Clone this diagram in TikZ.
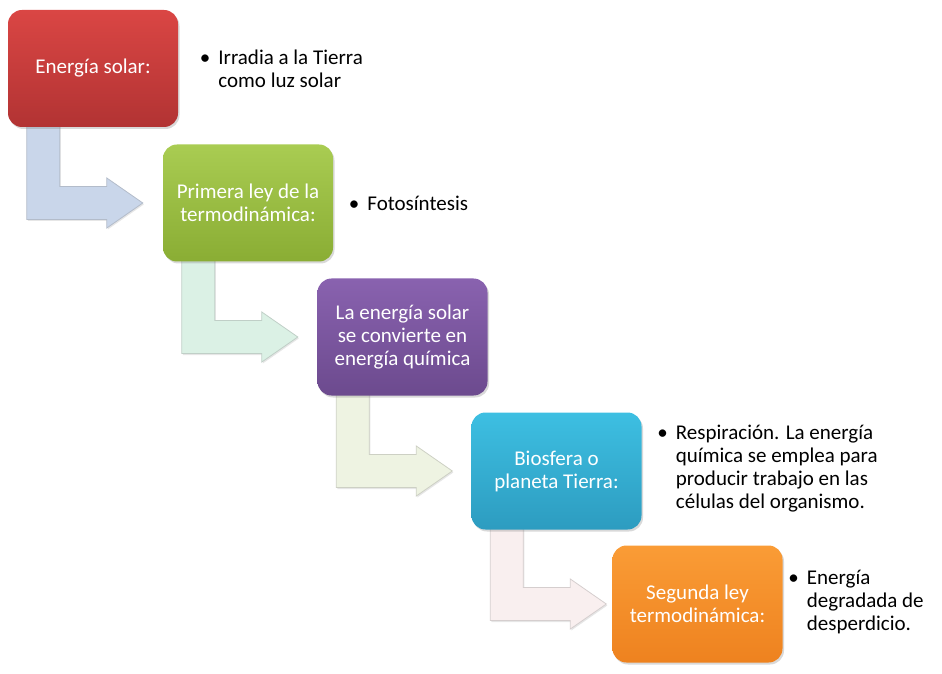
\documentclass[tikz,border=0pt]{standalone}
\usepackage{fontspec}
\setmainfont{Carlito}
\usetikzlibrary{calc}
\usetikzlibrary{positioning}
\usetikzlibrary{shadows}
\usetikzlibrary{backgrounds}

\definecolor{redtop}{HTML}{DA4644}
\definecolor{redbot}{HTML}{B23333}
\definecolor{greentop}{HTML}{A9CC52}
\definecolor{greenbot}{HTML}{8AAD34}
\definecolor{purpletop}{HTML}{8962AF}
\definecolor{purplebot}{HTML}{6C4A8E}
\definecolor{cyantop}{HTML}{3DBFE2}
\definecolor{cyanbot}{HTML}{2D9CC0}
\definecolor{orangetop}{HTML}{FA9C36}
\definecolor{orangebot}{HTML}{EE821F}
\definecolor{arrowblue}{HTML}{C9D6EA}
\definecolor{arrowmint}{HTML}{DBF1E5}
\definecolor{arrowcream}{HTML}{EEF3E2}
\definecolor{arrowrose}{HTML}{F9EFEF}

\tikzset{
    stage/.style={rounded corners=14pt, minimum width=170pt, minimum height=117pt,
        text=white, align=center, font=\fontsize{21pt}{23pt}\selectfont,
        drop shadow={opacity=0.3, shadow xshift=1.5pt, shadow yshift=-2pt}},
    note/.style={align=left, inner sep=0pt, font=\fontsize{21pt}{23pt}\selectfont},
    pics/bentarrow/.style args={#1/#2/#3}{
    code = {
        \path[fill=#3, draw=#3!70!gray, line width=0.8pt,
              drop shadow={opacity=0.2, shadow xshift=1pt, shadow yshift=-1.5pt}]
            let \p1=(#1.south west), \p2=(#2.west) in
            (\x1+19pt,\y1+4pt) -- (\x1+19pt,\y2-16.5pt)
            -- (\x1+99pt,\y2-16.5pt) -- (\x1+99pt,\y2-25pt)
            -- (\x1+135pt,\y2) -- (\x1+99pt,\y2+25pt)
            -- (\x1+99pt,\y2+16.5pt) -- (\x1+52pt,\y2+16.5pt)
            -- (\x1+52pt,\y1+4pt) -- cycle;
    }}
}

\begin{document}
\begin{tikzpicture}[x=1pt,y=1pt]
    \useasboundingbox (0,0) rectangle (942,673);

    % steps
    \node[stage, top color=redtop, bottom color=redbot] (solar) at (93,604.5) {Energía solar:};
    \node[stage, top color=greentop, bottom color=greenbot] (primera) at (248,470) {Primera ley de la\\termodinámica:};
    \node[stage, top color=purpletop, bottom color=purplebot] (quimica) at (402.5,336) {La energía solar\\se convierte en\\energía química};
    \node[stage, top color=cyantop, bottom color=cyanbot] (biosfera) at (556.5,202) {Biosfera o\\planeta Tierra:};
    \node[stage, top color=orangetop, bottom color=orangebot] (segunda) at (697.5,69) {Segunda ley\\termodinámica:};

    % bullet notes
    \node[note, right=40pt of solar] (solarnote) {\llap{\textbullet\hspace{8pt}}Irradia a la Tierra\\como luz solar};
    \node[note, right=34pt of primera] (primeranote) {\llap{\textbullet\hspace{8pt}}Fotosíntesis};
    \node[note, right=34pt of biosfera, yshift=2pt] (biosferanote) {\llap{\textbullet\hspace{8pt}}Respiración. La energía\\química se emplea para\\producir trabajo en las\\células del organismo.};
    \node[note, right=24pt of segunda, yshift=2pt] (segundanote) {\llap{\textbullet\hspace{8pt}}Energía\\degradada de\\desperdicio.};

    % arrows
    \begin{scope}[on background layer]
        \pic{bentarrow=solar/primera/arrowblue};
        \pic{bentarrow=primera/quimica/arrowmint};
        \pic{bentarrow=quimica/biosfera/arrowcream};
        \pic{bentarrow=biosfera/segunda/arrowrose};
    \end{scope}
\end{tikzpicture}
\end{document}
